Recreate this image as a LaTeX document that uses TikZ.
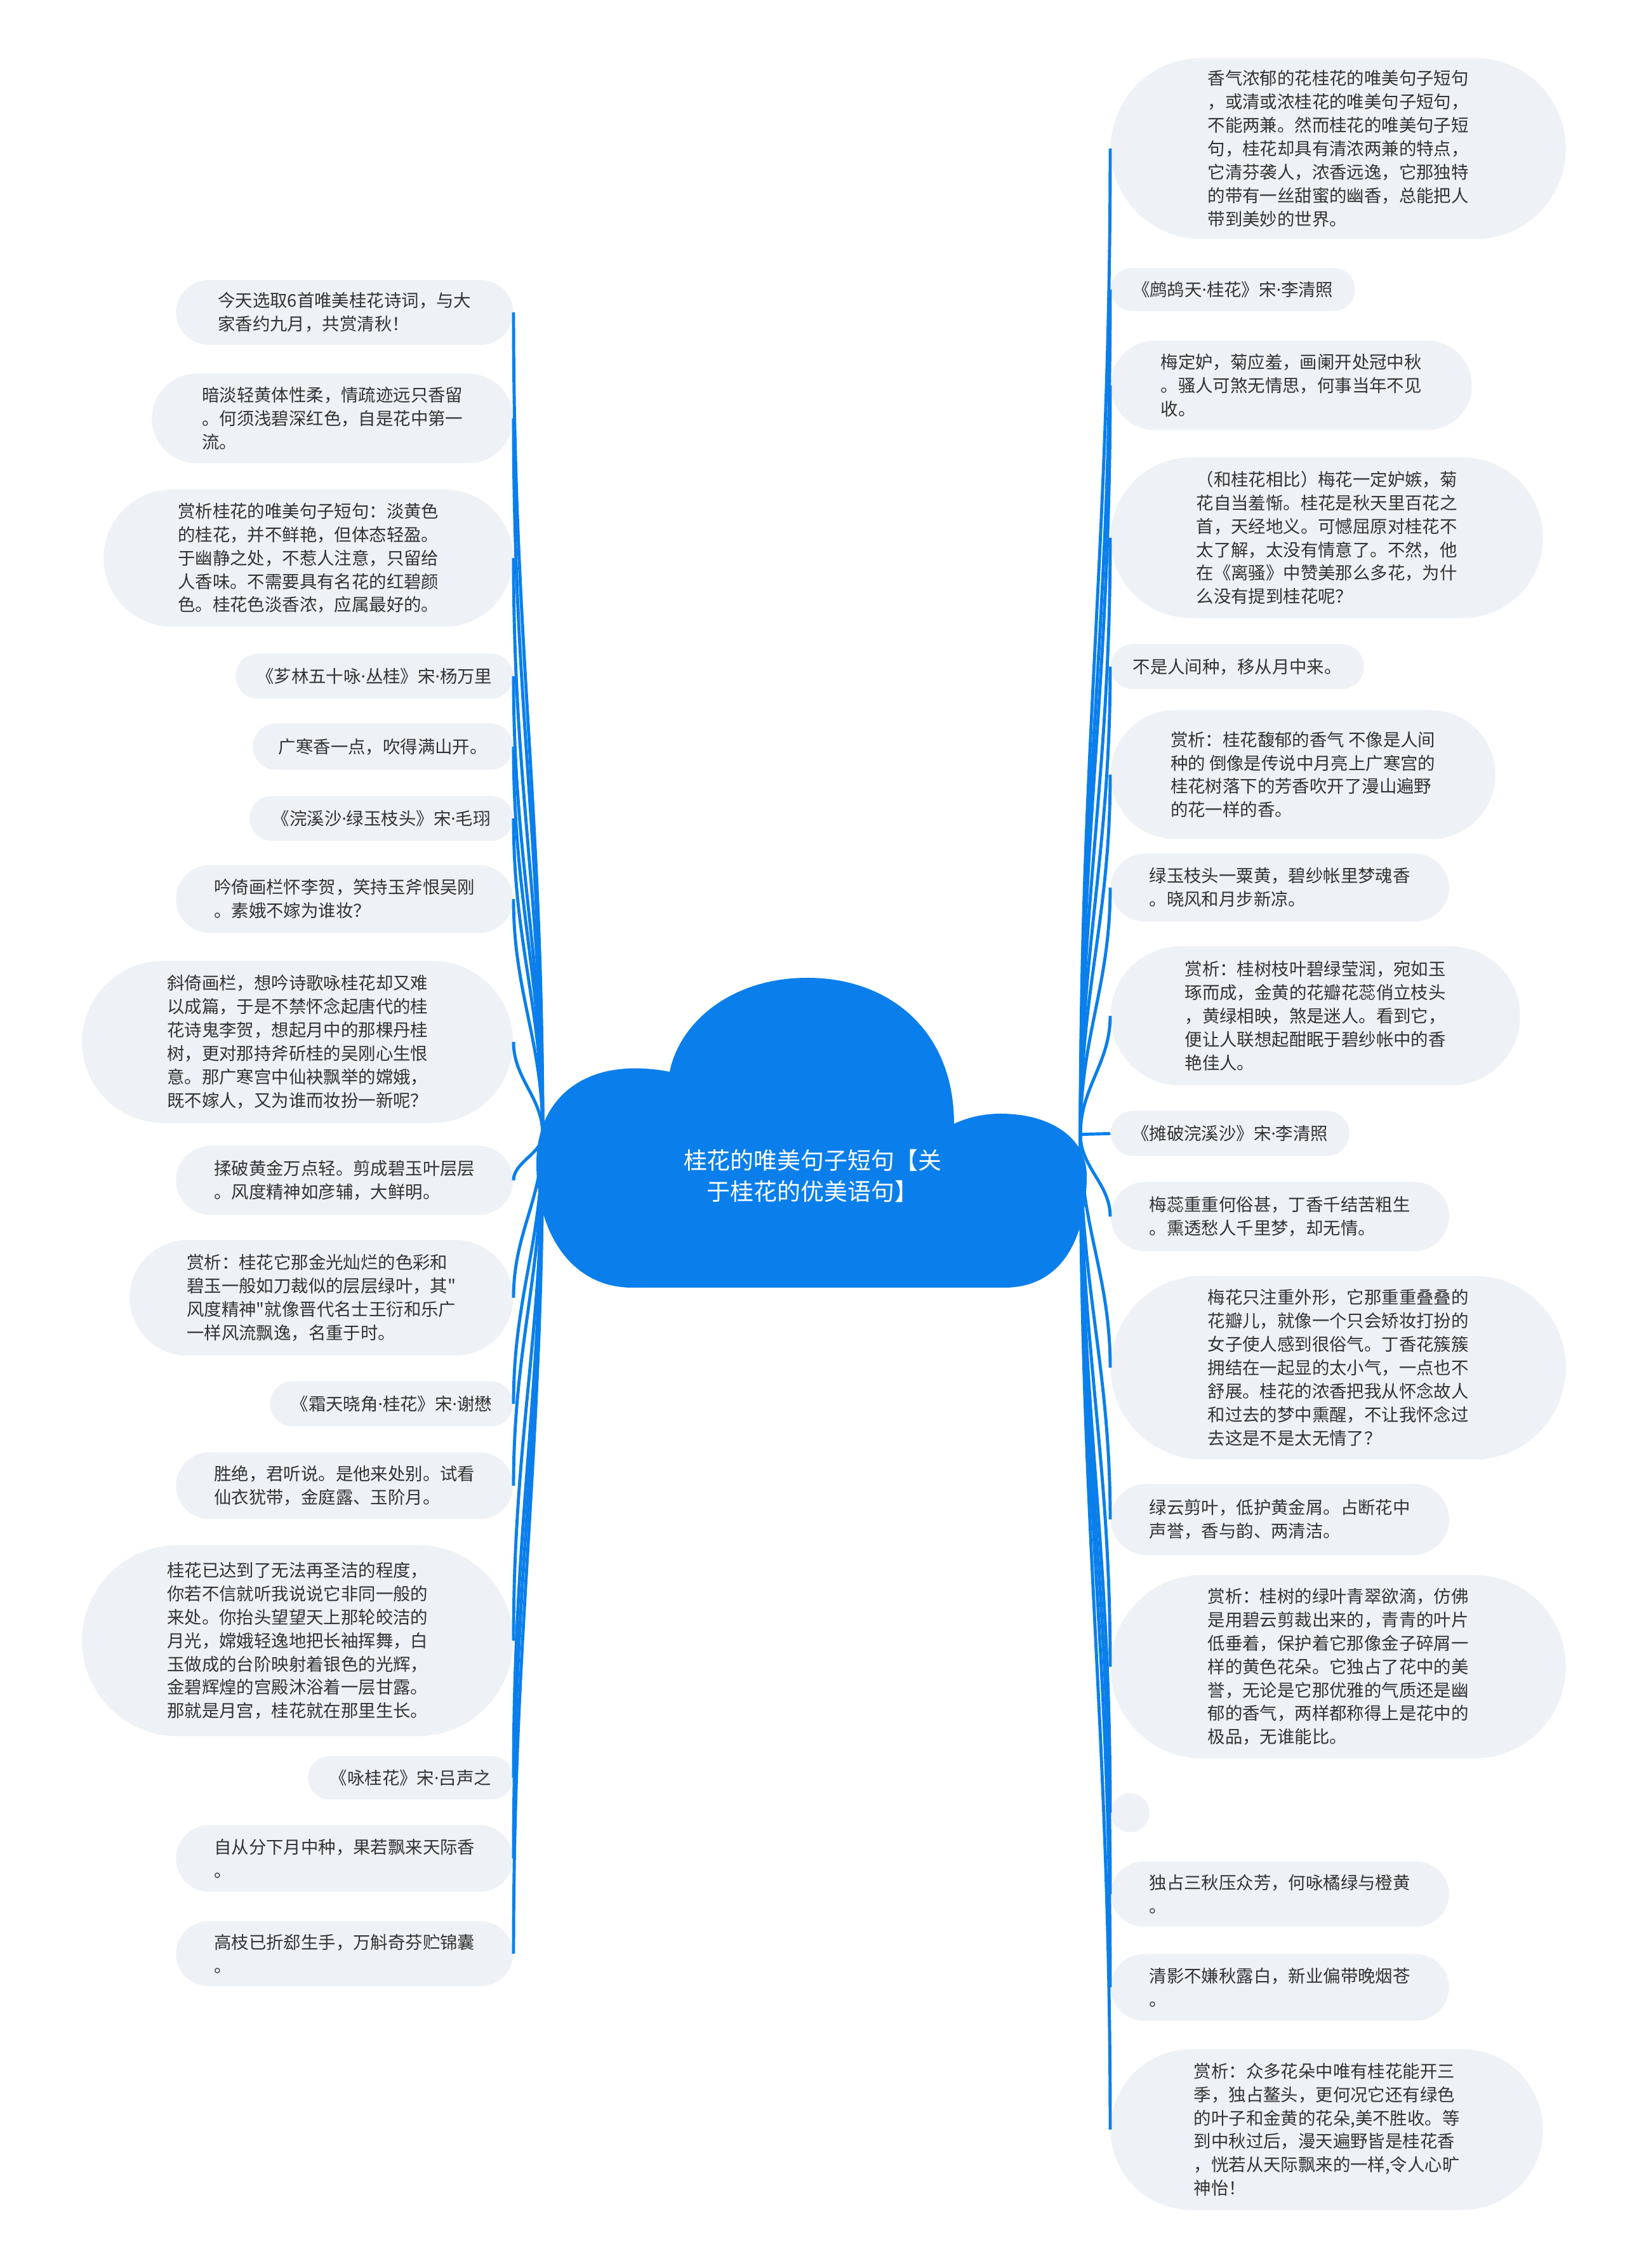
\documentclass[tikz,border=0pt]{standalone}
\usepackage{fontspec}
\newfontfamily\cjk{Noto Sans CJK SC}
\newfontfamily\latin{Noto Sans}
\newcommand\gdot{{\latin ·}}
\usetikzlibrary{calc, shapes.misc}
\definecolor{c1}{HTML}{0A7FEB}
\definecolor{c2}{HTML}{EEF1F5}
\definecolor{ink}{HTML}{333333}

\begin{document}
\begin{tikzpicture}[
    every node/.style={font=\cjk},
    leaf/.style={rounded rectangle, fill=c2, text=ink, align=left, inner sep=0pt,
        font=\cjk\fontsize{7.8pt}{10.5pt}\selectfont},
    bub/.style 2 args={minimum width=#1cm, minimum height=#2cm},
    link/.style={c1, line width=1.4pt},
]
\fill[white] (0,0) rectangle (25.60,35.72);
\useasboundingbox (0,0) rectangle (25.60,35.72);

% ============================================================ left branch
\node[leaf, bub={5.31}{1.02}, anchor=east] (l1) at (8.09, 30.80) {今天选取6首唯美桂花诗词，与大\\家香约九月，共赏清秋！};
\node[leaf, bub={5.69}{1.41}, anchor=east] (l2) at (8.09, 29.13) {暗淡轻黄体性柔，情疏迹远只香留\\。何须浅碧深红色，自是花中第一\\流。};
\node[leaf, bub={6.45}{2.16}, anchor=east] (l3) at (8.09, 26.93) {赏析桂花的唯美句子短句：淡黄色\\的桂花，并不鲜艳，但体态轻盈。\\于幽静之处，不惹人注意，只留给\\人香味。不需要具有名花的红碧颜\\色。桂花色淡香浓，应属最好的。};
\node[leaf, bub={4.37}{0.71}, anchor=east] (l4) at (8.09, 25.07) {《芗林五十咏\gdot 丛桂》宋\gdot 杨万里};
\node[leaf, bub={4.10}{0.73}, anchor=east] (l5) at (8.09, 23.96) {广寒香一点，吹得满山开。};
\node[leaf, bub={4.15}{0.71}, anchor=east] (l6) at (8.09, 22.83) {《浣溪沙\gdot 绿玉枝头》宋\gdot 毛珝};
\node[leaf, bub={5.31}{1.07}, anchor=east] (l7) at (8.09, 21.56) {吟倚画栏怀李贺，笑持玉斧恨吴刚\\。素娥不嫁为谁妆？};
\node[leaf, bub={6.79}{2.55}, anchor=east] (l8) at (8.09, 19.31) {斜倚画栏，想吟诗歌咏桂花却又难\\以成篇，于是不禁怀念起唐代的桂\\花诗鬼李贺，想起月中的那棵丹桂\\树，更对那持斧斫桂的吴刚心生恨\\意。那广寒宫中仙袂飘举的嫦娥，\\既不嫁人，又为谁而妆扮一新呢？};
\node[leaf, bub={5.31}{1.09}, anchor=east] (l9) at (8.09, 17.13) {揉破黄金万点轻。剪成碧玉叶层层\\。风度精神如彦辅，大鲜明。};
\node[leaf, bub={6.04}{1.82}, anchor=east] (l10) at (8.09, 15.28) {赏析：桂花它那金光灿烂的色彩和\\碧玉一般如刀裁似的层层绿叶，其"\\风度精神"就像晋代名士王衍和乐广\\一样风流飘逸，名重于时。};
\node[leaf, bub={3.83}{0.71}, anchor=east] (l11) at (8.09, 13.61) {《霜天晓角\gdot 桂花》宋\gdot 谢懋};
\node[leaf, bub={5.31}{1.05}, anchor=east] (l12) at (8.09, 12.32) {胜绝，君听说。是他来处别。试看\\仙衣犹带，金庭露、玉阶月。};
\node[leaf, bub={6.79}{3.01}, anchor=east] (l13) at (8.09, 9.88) {桂花已达到了无法再圣洁的程度，\\你若不信就听我说说它非同一般的\\来处。你抬头望望天上那轮皎洁的\\月光，嫦娥轻逸地把长袖挥舞，白\\玉做成的台阶映射着银色的光辉，\\金碧辉煌的宫殿沐浴着一层甘露。\\那就是月宫，桂花就在那里生长。};
\node[leaf, bub={3.23}{0.68}, anchor=east] (l14) at (8.09, 7.72) {《咏桂花》宋\gdot 吕声之};
\node[leaf, bub={5.31}{1.05}, anchor=east] (l15) at (8.09, 6.45) {自从分下月中种，果若飘来天际香\\。};
\node[leaf, bub={5.31}{1.02}, anchor=east] (l16) at (8.09, 4.95) {高枝已折郄生手，万斛奇芬贮锦囊\\。};

% ============================================================ right branch
\node[leaf, bub={7.17}{2.85}, anchor=west] (r1) at (17.49, 33.38) {香气浓郁的花桂花的唯美句子短句\\，或清或浓桂花的唯美句子短句，\\不能两兼。然而桂花的唯美句子短\\句，桂花却具有清浓两兼的特点，\\它清芬袭人，浓香远逸，它那独特\\的带有一丝甜蜜的幽香，总能把人\\带到美妙的世界。};
\node[leaf, bub={3.85}{0.68}, anchor=west] (r2) at (17.49, 31.16) {《鹧鸪天\gdot 桂花》宋\gdot 李清照};
\node[leaf, bub={5.69}{1.41}, anchor=west] (r3) at (17.49, 29.65) {梅定妒，菊应羞，画阑开处冠中秋\\。骚人可煞无情思，何事当年不见\\收。};
\node[leaf, bub={6.81}{2.53}, anchor=west] (r4) at (17.49, 27.25) {（和桂花相比）梅花一定妒嫉，菊\\花自当羞惭。桂花是秋天里百花之\\首，天经地义。可憾屈原对桂花不\\太了解，太没有情意了。不然，他\\在《离骚》中赞美那么多花，为什\\么没有提到桂花呢？};
\node[leaf, bub={3.99}{0.71}, anchor=west] (r5) at (17.49, 25.22) {不是人间种，移从月中来。};
\node[leaf, bub={6.06}{2.03}, anchor=west] (r6) at (17.49, 23.52) {赏析：桂花馥郁的香气 不像是人间\\种的 倒像是传说中月亮上广寒宫的\\桂花树落下的芳香吹开了漫山遍野\\的花一样的香。};
\node[leaf, bub={5.33}{1.07}, anchor=west] (r7) at (17.49, 21.74) {绿玉枝头一粟黄，碧纱帐里梦魂香\\。晓风和月步新凉。};
\node[leaf, bub={6.45}{2.19}, anchor=west] (r8) at (17.49, 19.72) {赏析：桂树枝叶碧绿莹润，宛如玉\\琢而成，金黄的花瓣花蕊俏立枝头\\，黄绿相映，煞是迷人。看到它，\\便让人联想起酣眠于碧纱帐中的香\\艳佳人。};
\node[leaf, bub={3.76}{0.71}, anchor=west] (r9) at (17.49, 17.87) {《摊破浣溪沙》宋\gdot 李清照};
\node[leaf, bub={5.33}{1.09}, anchor=west] (r10) at (17.49, 16.56) {梅蕊重重何俗甚，丁香千结苦粗生\\。熏透愁人千里梦，却无情。};
\node[leaf, bub={7.17}{2.89}, anchor=west] (r11) at (17.49, 14.18) {梅花只注重外形，它那重重叠叠的\\花瓣儿，就像一个只会矫妆打扮的\\女子使人感到很俗气。丁香花簇簇\\拥结在一起显的太小气，一点也不\\舒展。桂花的浓香把我从怀念故人\\和过去的梦中熏醒，不让我怀念过\\去这是不是太无情了？};
\node[leaf, bub={5.33}{1.12}, anchor=west] (r12) at (17.49, 11.79) {绿云剪叶，低护黄金屑。占断花中\\声誉，香与韵、两清洁。};
\node[leaf, bub={7.17}{2.89}, anchor=west] (r13) at (17.49, 9.47) {赏析：桂树的绿叶青翠欲滴，仿佛\\是用碧云剪裁出来的，青青的叶片\\低垂着，保护着它那像金子碎屑一\\样的黄色花朵。它独占了花中的美\\誉，无论是它那优雅的气质还是幽\\郁的香气，两样都称得上是花中的\\极品，无谁能比。};
\node[circle, fill=c2, minimum size=0.61cm, inner sep=0pt, anchor=west] (r14) at (17.49, 7.17) {};
\node[leaf, bub={5.33}{1.02}, anchor=west] (r15) at (17.49, 5.89) {独占三秋压众芳，何咏橘绿与橙黄\\。};
\node[leaf, bub={5.33}{1.05}, anchor=west] (r16) at (17.49, 4.42) {清影不嫌秋露白，新业偏带晚烟苍\\。};
\node[leaf, bub={6.81}{2.53}, anchor=west] (r17) at (17.49, 2.18) {赏析：众多花朵中唯有桂花能开三\\季，独占鳌头，更何况它还有绿色\\的叶子和金黄的花朵,美不胜收。等\\到中秋过后，漫天遍野皆是桂花香\\，恍若从天际飘来的一样,令人心旷\\神怡！};

% ============================================================ connectors
\coordinate (cl) at (8.55, 17.85);
\coordinate (cr) at (17.02, 17.85);
\foreach \i in {1,...,16}{
    \draw[link] (cl) .. controls ($(cl)!0.4!(cl |- l\i.east)$) and ($(l\i.east)!0.4!(l\i.east |- cl)$) .. (l\i.east);
}
\foreach \i in {1,...,17}{
    \draw[link] (cr) .. controls ($(cr)!0.4!(cr |- r\i.west)$) and ($(r\i.west)!0.4!(r\i.west |- cr)$) .. (r\i.west);
}

% ============================================================ the cloud
\fill[c1] (9.96, 15.44) -- (15.82, 15.44)
    .. controls (16.75, 15.44) and (17.12, 16.25) .. (17.12, 17.20)
    .. controls (17.12, 17.80) and (16.55, 18.18) .. (15.76, 18.18)
    .. controls (15.45, 18.18) and (15.20, 18.10) .. (15.03, 18.02)
    .. controls (15.03, 19.50) and (14.00, 20.32) .. (12.72, 20.32)
    .. controls (11.50, 20.32) and (10.70, 19.60) .. (10.55, 18.84)
    .. controls (9.20, 19.10) and (8.45, 18.40) .. (8.45, 17.40)
    .. controls (8.45, 16.30) and (9.00, 15.44) .. (9.96, 15.44) -- cycle;
\node[font=\cjk\fontsize{10.5pt}{14.2pt}\selectfont, text=white, align=center] (title) at (12.80, 17.20)
    {桂花的唯美句子短句【关\\于桂花的优美语句】};

\end{tikzpicture}
\end{document}
